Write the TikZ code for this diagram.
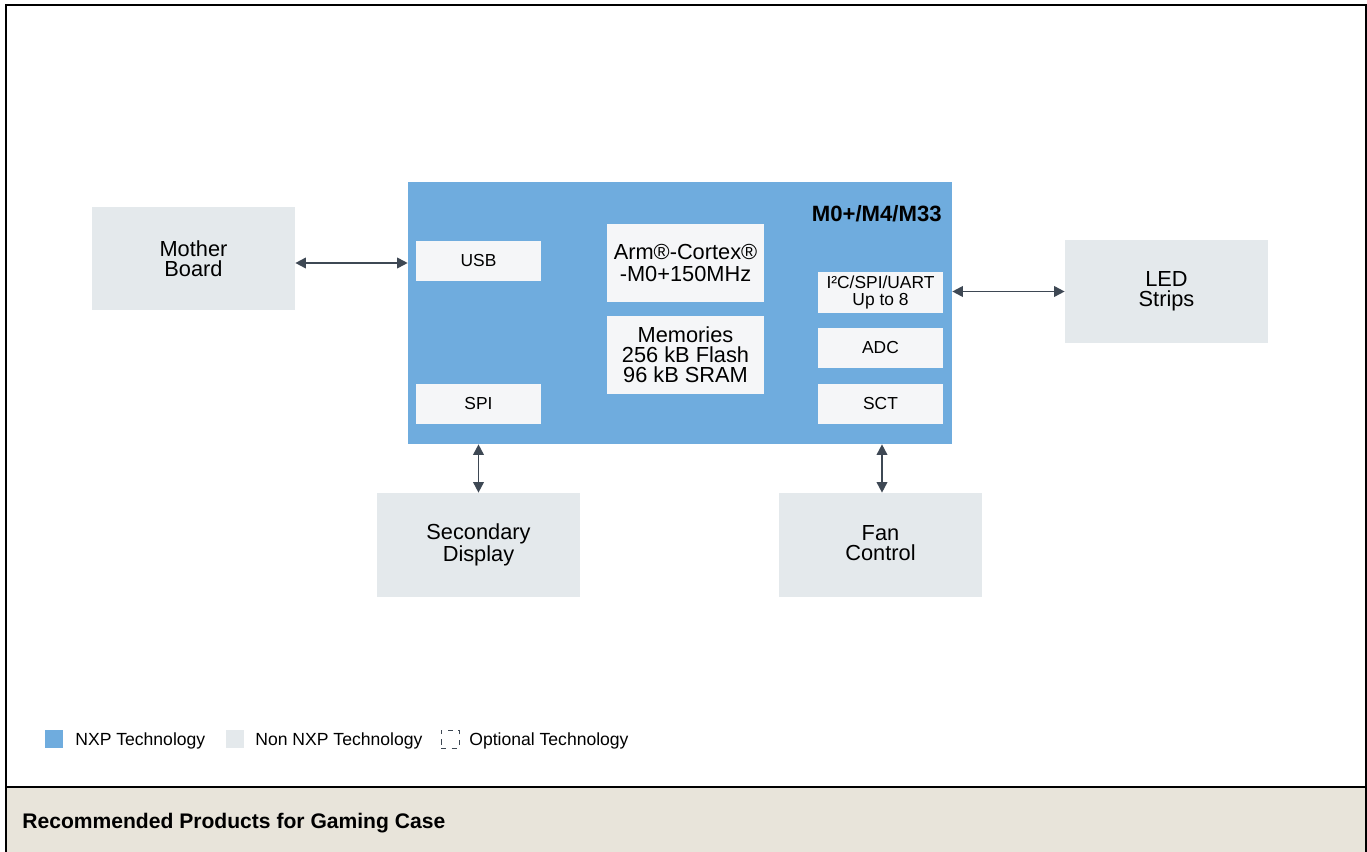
\documentclass[tikz,border=0pt]{standalone}
\usepackage{fontspec}
\setmainfont{Liberation Sans}
\usetikzlibrary{arrows.meta}

\definecolor{nxpblue}{RGB}{111,172,222}
\definecolor{nonnxp}{RGB}{228,233,236}
\definecolor{chipbox}{RGB}{245,246,248}
\definecolor{linkgray}{RGB}{62,72,84}
\definecolor{footbg}{RGB}{232,228,218}

\begin{document}
\begin{tikzpicture}[x=0.02cm,y=-0.02cm,
    ext/.style={fill=nonnxp,minimum width=4.06cm,minimum height=2.06cm,align=center,
      font=\fontsize{12.4}{11.4}\selectfont,inner sep=0pt},
    blk/.style={fill=chipbox,minimum width=2.5cm,minimum height=0.82cm,align=center,
      font=\fontsize{9.9}{10.2}\selectfont,inner sep=0pt},
    core/.style={fill=chipbox,minimum width=3.14cm,minimum height=1.57cm,align=center,
      font=\fontsize{12.4}{11.4}\selectfont,inner sep=0pt},
    link/.style={draw=linkgray,line width=1pt,{Triangle[length=6pt,width=6pt]}-{Triangle[length=6pt,width=6pt]}},
    legtxt/.style={anchor=west,font=\fontsize{10}{12}\selectfont,inner sep=0pt}]
    \useasboundingbox (0,0) rectangle (1367,852);

    % frame and footer
    \fill[footbg] (6,787) rectangle (1366,852);
    \draw[line width=1.6pt] (6,852) -- (6,5) -- (1367,5);
    \draw[line width=1.2pt] (1366,5) -- (1366,852);
    \draw[line width=1.2pt] (6,787) -- (1366,787);
    \node[anchor=west,inner sep=0pt,font=\bfseries\fontsize{12}{14}\selectfont] (title) at (22,823) {Recommended Products for Gaming Case};

    % MCU
    \node[fill=nxpblue,minimum width=10.88cm,minimum height=5.24cm,inner sep=0pt] (mcu) at (680,313) {};
    \node[anchor=east,inner sep=0pt,font=\bfseries\fontsize{12.6}{14}\selectfont] (mcuname) at (942,214) {M0+/M4/M33};
    \node[blk] (usb) at (478.5,261) {USB};
    \node[blk] (spi) at (478.5,404) {SPI};
    \node[core,font=\fontsize{12.4}{13}\selectfont] (cpu) at (685.5,263) {Arm®-Cortex®\\-M0+150MHz};
    \node[core] (mem) at (685.5,355) {Memories\\256 kB Flash\\96 kB SRAM};
    \node[blk,minimum height=0.84cm] (uart) at (880.5,292.5) {I²C/SPI/UART\\Up to 8};
    \node[blk] (adc) at (880.5,348) {ADC};
    \node[blk] (sct) at (880.5,404) {SCT};

    % external parts
    \node[ext] (board) at (193.5,258.5) {Mother\\Board};
    \node[ext] (led) at (1166.5,291.5) {LED\\Strips\vphantom{y}};
    \node[ext,minimum height=2.08cm] (disp) at (478.5,545) {Secondary\\Display};
    \node[ext,minimum height=2.08cm] (fan) at (880.5,545) {Fan\\Control\vphantom{y}};

    \draw[link] (board.east |- 0,263) -- (mcu.west |- 0,263);
    \draw[link] (mcu.east |- led) -- (led.west);
    \draw[link] (spi |- mcu.south) -- (disp.north);
    \draw[link] (mcu.south -| 882,0) -- (fan.north -| 882,0);

    % legend
    \node[fill=nxpblue,minimum size=0.36cm,inner sep=0pt] (legnxp) at (54,739) {};
    \node[legtxt] (legnxptxt) at (75,741) {NXP Technology};
    \node[fill=nonnxp,minimum size=0.36cm,inner sep=0pt] (legnon) at (235,739) {};
    \node[legtxt] (legnontxt) at (255,741) {Non NXP Technology};
    \node[draw=linkgray,dashed,line width=0.5pt,minimum size=0.36cm,inner sep=0pt] (legopt) at (450,739) {};
    \node[legtxt] (legopttxt) at (469,741) {Optional Technology};
\end{tikzpicture}
\end{document}
